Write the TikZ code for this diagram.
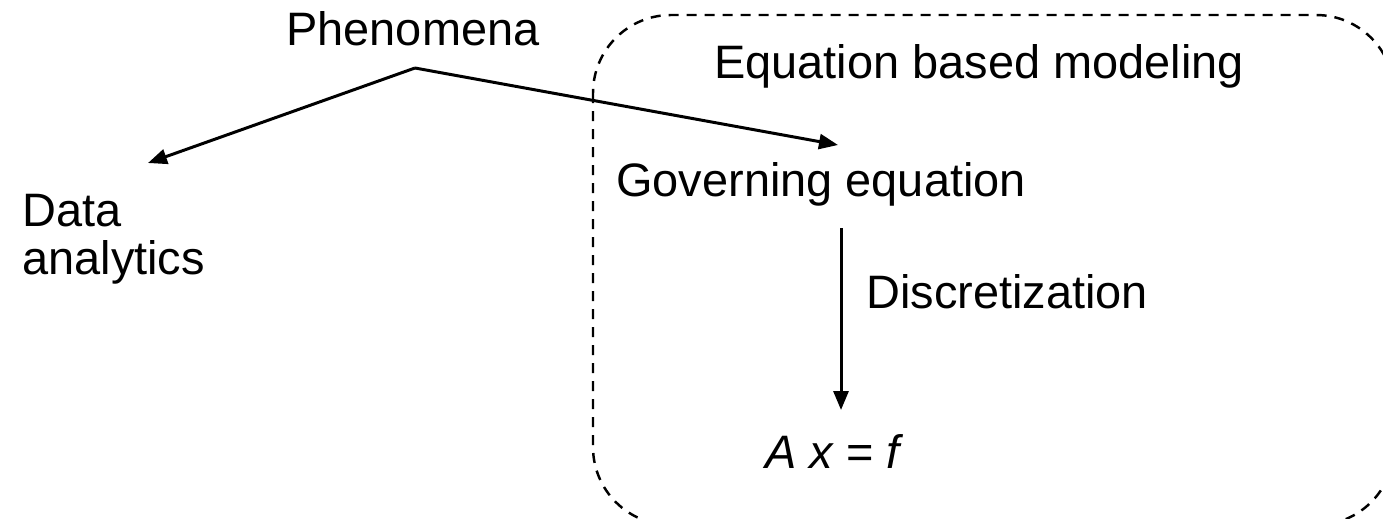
\documentclass[tikz,border=0pt]{standalone}
\usepackage{fontspec}
\setmainfont{Liberation Sans}
\usetikzlibrary{arrows.meta}

\begin{document}
\begin{tikzpicture}[
  lbl/.style={inner sep=0pt, font=\fontsize{26.7}{27.3}\selectfont},
  arr/.style={-{Triangle[length=3.8mm, width=3mm]}, line width=1.7pt},
  frame/.style={draw, line width=1.4pt, dash pattern=on 2mm off 1.6mm,
                rounded corners=15.6mm}
]
\useasboundingbox (0,0) rectangle (27.66,-10.36);
\clip (0,0) rectangle (27.66,-10.36);
% modeling region
\draw[frame] (11.86,-0.3) rectangle (27.88,-10.5);
\node[lbl, anchor=base] (ebm) at (19.58,-1.56) {Equation based modeling};
% labels
\node[lbl, anchor=base west] (phen) at (5.72,-0.9) {Phenomena};
\node[lbl, anchor=north west, align=left] (data) at (0.44,-3.88) {Data\\analytics};
\node[lbl, anchor=base west] (gov) at (12.32,-3.92) {Governing equation};
\node[lbl, anchor=base west] (disc) at (17.32,-6.16) {Discretization};
\node[lbl, anchor=base west] (axf) at (15.3,-9.36) {\itshape A x {\upshape =} f};
% connectors
\coordinate (apex) at (8.3,-1.36);
\coordinate (toData) at (2.96,-3.26);
\coordinate (toGov) at (16.76,-2.9);
\coordinate (govOut) at (16.82,-4.56);
\coordinate (axfIn) at (16.82,-8.2);
\draw[arr] (apex) -- (toData);
\draw[arr] (apex) -- (toGov);
\draw[arr] (govOut) -- (axfIn);
\end{tikzpicture}
\end{document}
